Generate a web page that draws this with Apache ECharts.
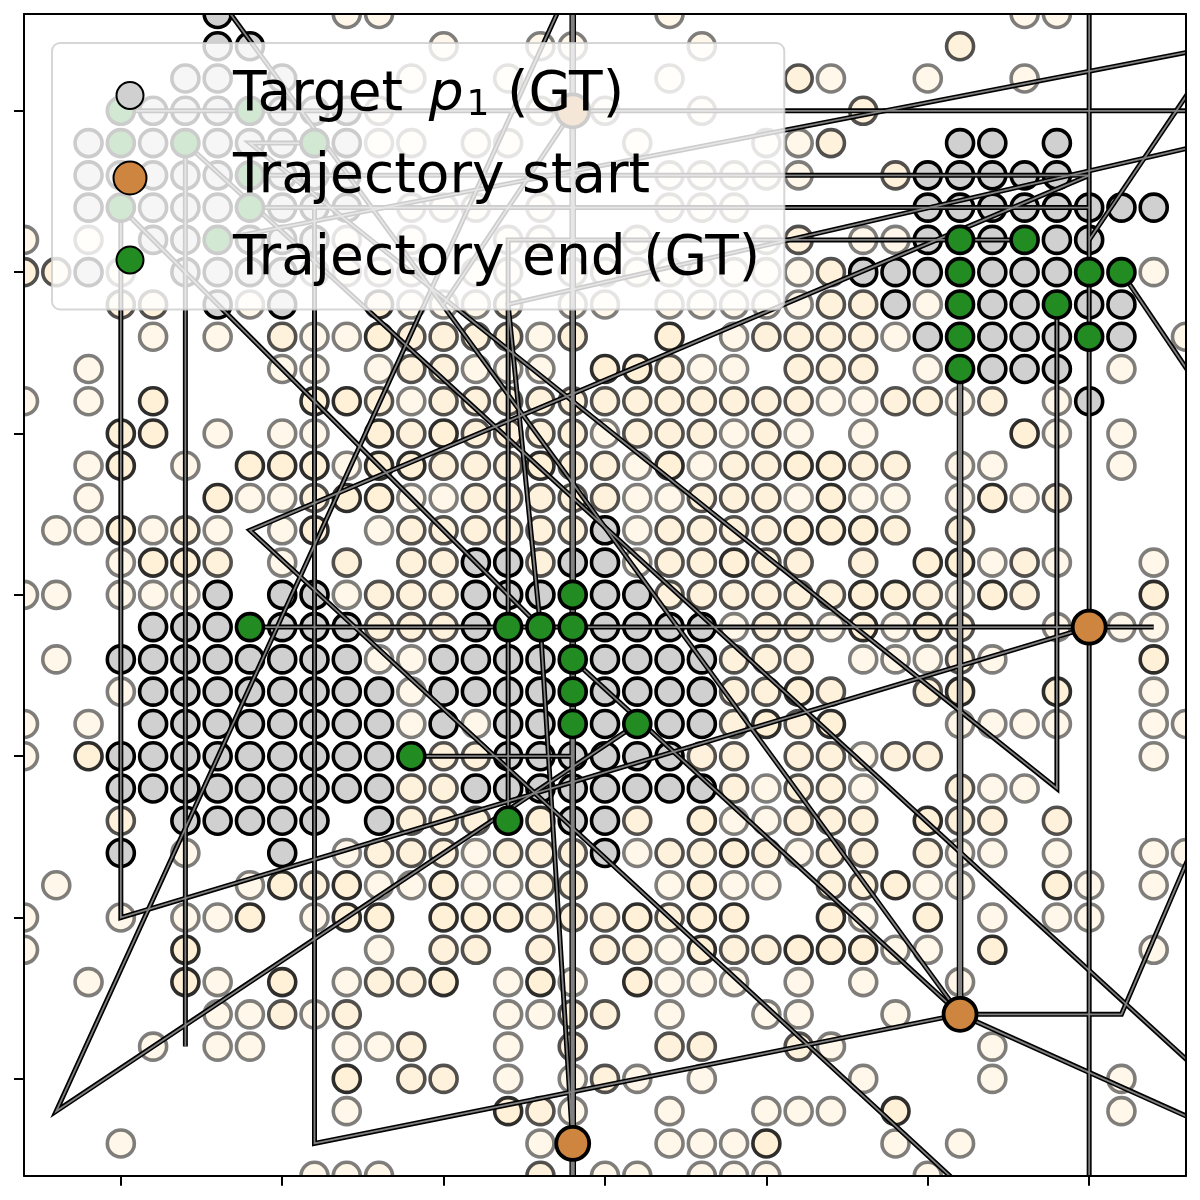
<!DOCTYPE html>
<html><head><meta charset="utf-8">
<style>html,body{margin:0;padding:0;background:#fff}#c{width:1200px;height:1200px}</style>
<script src="https://cdn.jsdelivr.net/npm/echarts@6/dist/echarts.min.js"></script>
</head><body><div id="c"></div>
<script>
// every row list is [row, col, col, ...]
const beigeFaint = [
[-3,7,8,17,28,29],[-2,10,13,14,18],[-1,9,12,17,22,25,28],[0,8,13,15,18],[1,8,9,11,12,16,20,21],
[2,17,18,19,20,21],[3,9,10,11,13,17,18,19],[4,-3,-1,7,9,12,13,16,20,23,24],
[5,0,6,7,8,9,11,12,14,15,16,17,18,19,20,21,32],[6,4,9,10,11,14,15,17,18,19,20,21,25],
[7,1,3,6,7,13,19,24,33],[8,-1,5,6,8,11,12,13,18,19,25,31],[9,-3,-1,9,22,23,26,29],
[10,3,5,6,15,19,21,23,29,31],[11,-1,2,7,16,18,26,27,31],[12,-1,4,5,9,10,16,17,21,23,24,26,28],
[13,-2,-1,1,3,5,8,16],[14,0,5,16,27,29,32],[15,-3,-2,0,1,2,7,26],[16,19,22,24,29,31,32],
[17,-2,8,9,23,24,25,27],[18,0,9,32],[19,-3,-1,9,11,26,27,28,29,32,33],[20,-3,23,32],[21,20,23,27,28],
[22,19,20],[23,2,7,11,16,21,26,27,29,32,33],[24,-2,4,8,9,11,12,17,19,20,25,26,30,32],
[25,-3,0,2,3,6,23,27,29,30],[26,-3,8,17,24,25,32],[27,-1,3,7,12,14,17,18,19,21,23,26],
[28,3,4,6,12,13,17,20,21,24],[29,1,3,4,7,8,12,22,27],[30,12,14,16,18,23,27,31],
[31,7,14,17,20,21,22,31],[32,0,13,17,18,19,24,26],[33,6,7,8,15,16,18,19,20,25]
];
const beigeMid = [
[-2,26],[-1,21],[0,23],[1,22],[2,24],[4,21],[5,-3,-2,22],[6,0,1,12,22,23],[7,5,9,10,11,12,14,20,21,22,23],
[8,9,10,17,21,22,23],[9,8,10,11,12,13,14,15,16,17,18,19,20,21,24,25,27],[10,9,11,12,13,14,16,17,18,20],
[11,10,11,12,14,15,19,20,23,24],[12,6,11,12,13,14,15,18,19,20,29],[13,2,9,10,11,12,13,14,17,18,19,20,24,26],
[14,3,7,9,10,13,17,18,20,21,23,28],[15,8,9,10,17,18,19,20,21,22,25,28],[16,8,9,10,20,21,26],[17,19,20,21,26],
[18,19,20,22,25],[19,19,21],[20,10,11,18,19,21,22,24,25],[21,9,10,19,21,22,26],[22,0,9,10,11,16,21,22,23,26,27,29],
[23,8,9,10,12,13,14,17,18,20,22,23,25],[24,6,13,14,22,23],[25,13,14,15,17],[26,10,11,13,15,16,19,20],[27,8,9],
[28,5,7,14,15],[29,9,14,17,18,21],[30,9,10,15],[31,13],[33,13]
];
const beigeDark = [
[6,8],[7,8,17],[8,15,16],[9,1,6,7],[10,0,1,8,10,28],[11,0,4,5,6,8,9,13,17,21,22],[12,3,7,8,22,27],
[13,0,6,21,22,23],[14,1,2,19,25,26],[15,23,24,27,32],[16,23,25],[17,32],[18,21,26,29],[19,20,22],[20,-1],
[22,13,18,25],[23,19],[24,5,7,10,18,24,29],[25,4,7,8,10,11,12,16,18,19,22,25],[26,2,18,21,22,23,27],
[27,2,5,10,13,16],[30,7],[31,12,24],[32,20]
];
const targetCells = [
[-3,3],[-2,3,4],[-1,2,3,5],[0,1,2,3,5,6,7],[1,-1,1,3,4,5,7,26,27,29],[2,-1,0,1,2,3,5,6,7,25,26,27,28,29],
[3,-1,1,2,3,5,6,7,25,26,27,28,29,30,31,32],[4,1,2,4,5,6,25,27,29,30],[5,-1,2,3,4,5,23,24,25,27,28,29],
[6,3,5,24,27,28,30,31],[7,25,27,28,29,31],[8,27,28,29],[9,30],[13,15],[14,11,12,14,15],
[15,3,5,6,11,12,13,15,16],[16,1,2,3,5,6,7,11,15,16,17,18],[17,0,1,2,3,4,5,6,7,10,11,12,13,15,16,17,18],
[18,1,2,3,4,5,6,7,8,10,11,12,13,15,16,17,18],[19,1,2,3,4,5,6,7,8,10,12,13,15,17,18],
[20,0,1,2,3,4,5,6,7,8,12,13,14,15,16,17],[21,0,1,2,3,4,5,6,7,8,11,12,13,14,15,16,17,18],
[22,2,3,4,5,6,8,14,15],[23,0,5,15]
];
const endCells = [
[0,0,4],[1,0,2,6],[2,4],[3,0,4],[4,3,26,28],[5,26,30,31],[6,26,29],[7,26,30],[8,26],
[15,14],[16,4,12,13,14],[17,14],[18,14],[19,14,16],[20,9],[22,12]
];
const startCells = [[0,14],[16,30],[28,26],[32,14]];
// polylines as [col,row] waypoints
const wideTrajectories = [
[[14,-3],[14,33]],
[[26,8],[26,28]]
];
const narrowTrajectories = [
[[30,-3],[30,33]],
[[30,16],[0,25],[0,3]],
[[2,1],[2,29]],
[[4,3],[30,3]],
[[4,2],[30,2]],
[[0,0],[34,0]],
[[6,3],[6,32],[26,28]],
[[3,4],[34,-2]],
[[14,32],[13,16],[12,6],[33,1.17]],
[[30,2],[4,13],[26,33.3]],
[[28,4],[12,4],[12,22]],
[[4,16],[32,16]],
[[9,20],[14,20]],
[[6,1],[4,1],[29,21],[29,6]],
[[26,28],[3.4,-3]],
[[2,1],[34,30.3]],
[[0,3],[13,16]],
[[14,17],[26,28]],
[[14,0],[10,6]],
[[13.6,-3.2],[-2,31],[16,19]],
[[31,5],[34,9.45]],
[[30,4],[33.1,-0.6]],
[[26,28],[31,28],[34,21]],
[[26,28],[34,31.6]]
];
const tickValues = [0,5,10,15,20,25,30];
const legendNames = ['Target p1 (GT)','Trajectory start','Trajectory end (GT)'];

const cells = rows => rows.flatMap(([r,...cs]) => cs.map(c => [c,r]));
const scatter = (name,rows,color,size,bw,edge,z) => ({
  type:'scatter',name,data:cells(rows),symbol:'circle',symbolSize:size,z,silent:true,
  itemStyle:{color,borderColor:edge,borderWidth:bw,opacity:1}
});
const lines = [];
const addLine = (pts,w,color) => {
  lines.push({type:'line',data:pts,showSymbol:false,symbol:'none',z:4,silent:true,
    lineStyle:{color,width:w,join:'miter',cap:'butt'}});
};
narrowTrajectories.forEach(p=>addLine(p,5,'#000'));
wideTrajectories.forEach(p=>addLine(p,6.6,'#000'));
narrowTrajectories.forEach(p=>addLine(p,1.8,'#808080'));
wideTrajectories.forEach(p=>addLine(p,4,'#808080'));

const labelFmt = n => n===legendNames[0]
  ? '{a|Target }{i|p}{s|1}{a| (GT)}' : '{a|'+n+'}';
const dot = r => `path://M0 0L0 0M36 36L36 36M18 ${18-r}A${r} ${r} 0 1 1 18 ${18+r}A${r} ${r} 0 1 1 18 ${18-r}Z`;

const xBase={type:'value',min:-3,max:33,axisLabel:{show:false},splitLine:{show:false},z:10};
const yBase={type:'value',min:-3,max:33,inverse:true,axisLabel:{show:false},splitLine:{show:false},z:10};
const spine={onZero:false,lineStyle:{color:'#000',width:2}};
const tick={show:true,length:10,customValues:tickValues,lineStyle:{color:'#000',width:2}};
const mask=(x,y,width,height)=>({type:'rect',z:8,silent:true,shape:{x,y,width,height},style:{fill:'#fff'}});

const chart=echarts.init(document.getElementById('c'),null,{renderer:'canvas',width:1200,height:1200});
chart.setOption({
  animation:false,backgroundColor:'#fff',
  grid:{left:24,right:14,top:14,bottom:24.3,containLabel:false},
  xAxis:[{...xBase,position:'bottom',axisLine:spine,axisTick:tick},
         {...xBase,position:'top',axisLine:spine,axisTick:{show:false}}],
  yAxis:[{...yBase,position:'left',axisLine:spine,axisTick:tick},
         {...yBase,position:'right',axisLine:spine,axisTick:{show:false}}],
  graphic:{elements:[mask(0,0,24,1200),mask(1186,0,14,1200),mask(0,0,1200,14),mask(0,1176,1200,24)]},
  legend:{
    show:true,orient:'vertical',left:52,top:43,z:20,
    padding:[25,24,22,59],itemGap:27,itemWidth:36,itemHeight:36,
    backgroundColor:'rgba(255,255,255,0.8)',borderColor:'rgba(204,204,204,0.8)',borderWidth:2,borderRadius:8,
    selectedMode:false,
    data:[
      {name:legendNames[0],icon:dot(13.5)},
      {name:legendNames[1],icon:dot(16.5)},
      {name:legendNames[2],icon:dot(13.5)}
    ],
    formatter:labelFmt,
    textStyle:{padding:[0,0,0,80],rich:{
      a:{fontFamily:'DejaVu Sans',fontSize:55,lineHeight:56,color:'#000'},
      i:{fontFamily:'DejaVu Sans',fontStyle:'italic',fontSize:55,lineHeight:56,color:'#000',padding:[0,0,0,8]},
      s:{fontFamily:'DejaVu Sans',fontSize:36,lineHeight:22,verticalAlign:'bottom',color:'#000',padding:[0,0,0,3]}
    }}
  },
  series:[
    scatter('beigeFaint',beigeFaint,'rgba(255,239,213,0.5)',27,3.6,'rgba(0,0,0,0.5)',2),
    scatter('beigeMid',beigeMid,'rgba(255,239,213,0.8)',27,3.6,'rgba(0,0,0,0.68)',2),
    scatter('beigeDark',beigeDark,'rgba(255,239,213,0.92)',27,3.6,'rgba(0,0,0,0.82)',2),
    scatter(legendNames[0],targetCells,'#D0D0D0',27,3.6,'#000',3),
    ...lines,
    scatter(legendNames[2],endCells,'#228B22',27,3.6,'#000',5),
    scatter(legendNames[1],startCells,'#CD853F',33,3.8,'#000',6)
  ]
});
</script></body></html>
